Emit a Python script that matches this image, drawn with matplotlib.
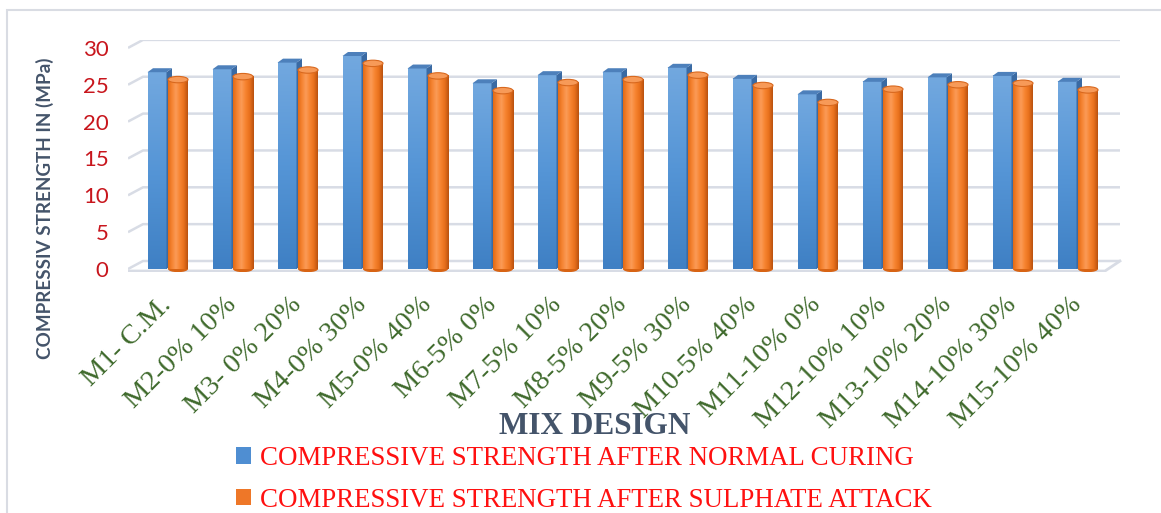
import numpy as np
import matplotlib.pyplot as plt
from matplotlib.patches import Rectangle, Polygon, Ellipse, Patch
from matplotlib.colors import LinearSegmentedColormap

# mix designs and compressive strengths (MPa)
mixes = ["M1- C.M.", "M2-0% 10%", "M3- 0% 20%", "M4-0% 30%", "M5-0% 40%",
         "M6-5% 0%", "M7-5% 10%", "M8-5% 20%", "M9-5% 30%", "M10-5% 40%",
         "M11-10% 0%", "M12-10% 10%", "M13-10% 20%", "M14-10% 30%", "M15-10% 40%"]
normal_curing = [26.7, 27.1, 28.0, 28.9, 27.2, 25.2, 26.3, 26.7, 27.3, 25.8,
                 23.7, 25.4, 26.0, 26.2, 25.4]
sulphate_attack = [25.7, 26.1, 27.0, 27.9, 26.2, 24.2, 25.3, 25.7, 26.3, 24.9,
                   22.6, 24.4, 25.0, 25.2, 24.3]
yticks = [0, 5, 10, 15, 20, 25, 30]
series_names = ["COMPRESSIVE STRENGTH AFTER NORMAL CURING",
                "COMPRESSIVE STRENGTH AFTER SULPHATE ATTACK"]

W, H = 1161, 513
fig = plt.figure(figsize=(W / 100, H / 100), dpi=100)

# plot area in pixels
left, right, top, bottom = 128, 1125, 40, 272
ax = fig.add_axes([left / W, 1 - bottom / H, (right - left) / W, (bottom - top) / H])
px_y = 7.37            # pixels per MPa
zero_px = 269
cat0_px, step_px = 167.5, 65.0
x_lo = -(cat0_px - left) / step_px
x_hi = (right - cat0_px) / step_px
y_lo = -(bottom - zero_px) / px_y
y_hi = (zero_px - top) / px_y

def dx(p):
    return p / step_px

def dy(p):
    return p / px_y

# back wall gridlines with a short perspective leg on the left
grid_c = "#d8dce5"
for v in yticks:
    ax.plot([x_lo, x_lo + dx(15), dx(1120 - cat0_px)], [v, v + dy(8), v + dy(8)],
            color=grid_c, lw=1.8, zorder=0, solid_capstyle="butt")
# floor front edge
ax.plot([x_lo, dx(1105 - cat0_px), dx(1120 - cat0_px)], [y_lo + dy(1), y_lo + dy(1), dy(8)],
        color=grid_c, lw=2, zorder=0)

blue_cmap = LinearSegmentedColormap.from_list("b", ["#3f80c4", "#5595d6", "#72a8df"])
orange_cmap = LinearSegmentedColormap.from_list(
    "o", ["#e26a14", "#f58433", "#fb9b57", "#f78430", "#e8701c", "#b9520f"])

x = np.arange(len(mixes))
bw_b, bw_o = dx(19), dx(20)
off = dx(10.5)

# blue prisms
for xi, v in zip(x, normal_curing):
    x0 = xi - off - bw_b / 2
    x1 = x0 + bw_b
    grad = np.linspace(0, 1, 100).reshape(-1, 1)
    ax.imshow(grad, extent=[x0, x1, 0, v], origin="lower", cmap=blue_cmap,
              aspect="auto", zorder=2)
    ddx, ddy = dx(5.5), dy(4)
    ax.add_patch(Polygon([[x1, 0], [x1, v], [x1 + ddx, v + ddy], [x1 + ddx, ddy]],
                         closed=True, fc="#3a6aa3", ec="none", zorder=2))
    ax.add_patch(Polygon([[x0, v], [x1, v], [x1 + ddx, v + ddy], [x0 + ddx, v + ddy]],
                         closed=True, fc="#4d80bb", ec="none", zorder=2))

# orange cylinders
ry = dy(3.2)
for xi, v in zip(x, sulphate_attack):
    xc = xi + off
    x0 = xc - bw_o / 2
    x1 = xc + bw_o / 2
    ax.add_patch(Ellipse((xc, 0), bw_o, 2 * ry, fc="#d86414", ec="none", zorder=3))
    grad = np.linspace(0, 1, 100).reshape(1, -1)
    ax.imshow(grad, extent=[x0, x1, 0, v], origin="lower", cmap=orange_cmap,
              aspect="auto", zorder=3)
    ax.add_patch(Ellipse((xc, v), bw_o, 2 * ry, fc="#f79a58", ec="#d8681e",
                         lw=0.8, zorder=4))

ax.set_xlim(x_lo, x_hi)
ax.set_ylim(y_lo, y_hi)
for s in ax.spines.values():
    s.set_visible(False)

ax.set_yticks(yticks)
ax.set_yticklabels([str(v) for v in yticks], color="#c8161d", fontsize=16,
                   fontfamily="Lato")
ax.tick_params(axis="y", length=0, pad=14)

ax.set_xticks(x)
ax.set_xticklabels(mixes, rotation=45, ha="right", va="center",
                   rotation_mode="anchor", color="#3f6a2c", fontsize=20.5,
                   fontfamily="Liberation Serif")
ax.tick_params(axis="x", length=0, pad=21)

fig.text(45 / W, 1 - 208 / H, "COMPRESSIV STRENGTH IN (MPa)", rotation=90,
         ha="center", va="center", fontsize=13.6, fontweight="bold",
         color="#44546a", fontfamily="Lato")
fig.text(595 / W, 1 - 427 / H, "MIX DESIGN", ha="center", va="center",
         fontsize=22.5, fontweight="bold", color="#44546a",
         fontfamily="Liberation Serif")

handles = [Patch(fc="#4f8ed2", ec="none"), Patch(fc="#ee7728", ec="none")]
fig.legend(handles, series_names, loc="upper left",
           bbox_to_anchor=(236 / W, 1 - 446 / H), frameon=False,
           prop={"family": "Liberation Serif", "size": 19.4}, labelcolor="#ff1010",
           handlelength=0.55, handleheight=0.55, handletextpad=0.35,
           labelspacing=0.62, borderpad=0, borderaxespad=0)

# chart frame
fig.patches.append(Rectangle((7 / W, -0.1), 1.2, 1 - 10 / H + 0.1,
                             transform=fig.transFigure, fill=False,
                             ec="#d9dce3", lw=1.5))

fig.savefig("out.png", dpi=100)
